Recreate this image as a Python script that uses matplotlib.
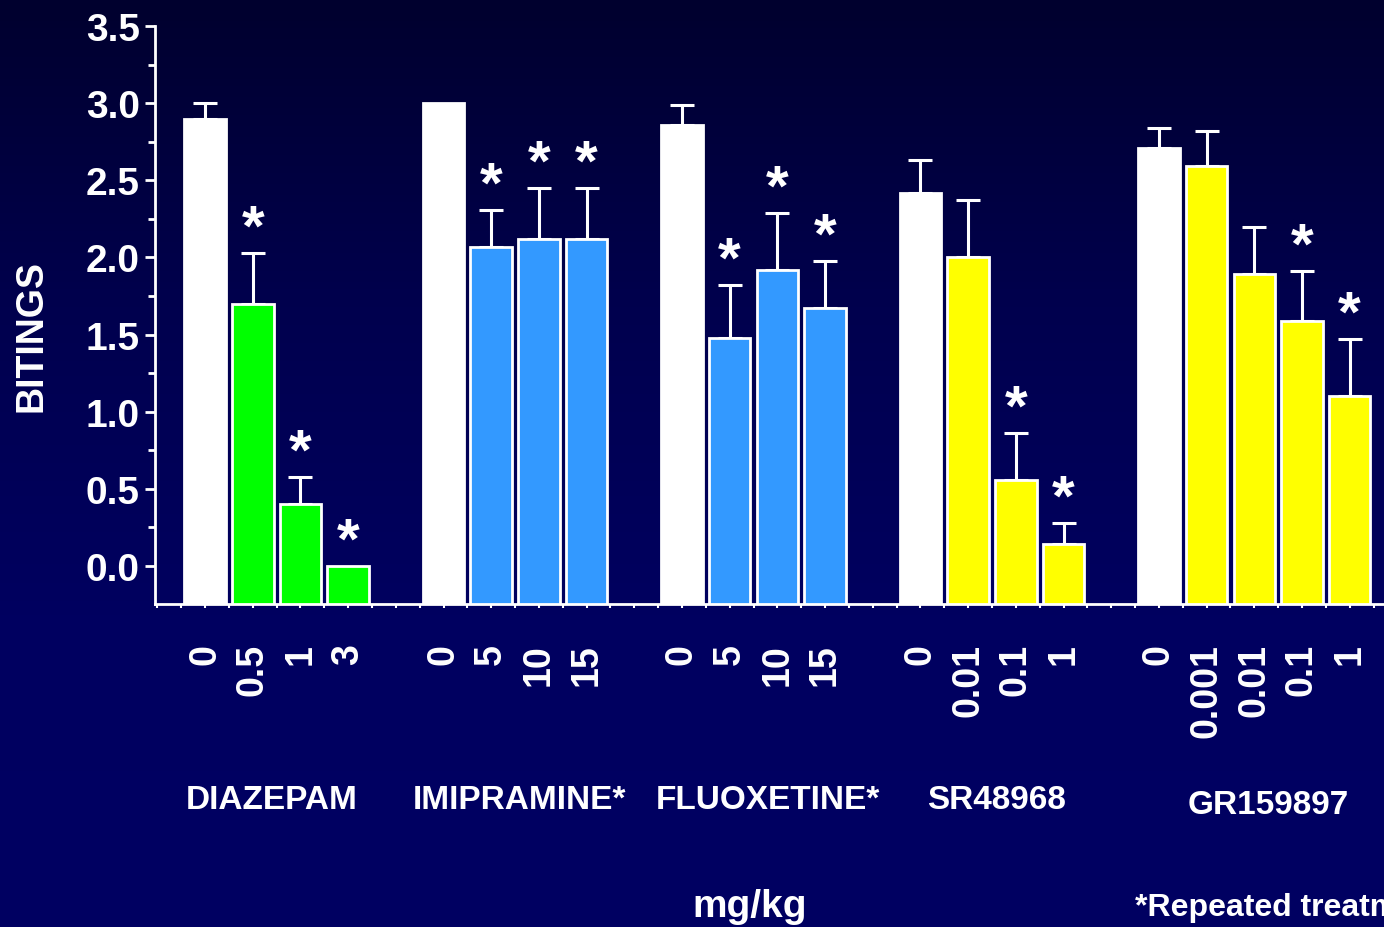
import numpy as np
import matplotlib
matplotlib.use("Agg")
import matplotlib.pyplot as plt
import matplotlib.transforms as mtransforms
from matplotlib.colors import LinearSegmentedColormap
from matplotlib.ticker import MultipleLocator, FixedLocator

plt.rcParams["font.family"] = ["Liberation Sans", "DejaVu Sans"]
plt.rcParams["font.weight"] = "bold"

# groups (drug, doses, means, upper SEM, significance)
drugs = ["DIAZEPAM", "IMIPRAMINE*", "FLUOXETINE*", "SR48968", "GR159897"]
doses = [
    ["0", "0.5", "1", "3"],
    ["0", "5", "10", "15"],
    ["0", "5", "10", "15"],
    ["0", "0.01", "0.1", "1"],
    ["0", "0.001", "0.01", "0.1", "1"],
]
means = [
    [2.90, 1.70, 0.40, 0.0],
    [3.00, 2.07, 2.12, 2.12],
    [2.86, 1.48, 1.92, 1.67],
    [2.42, 2.00, 0.56, 0.14],
    [2.71, 2.59, 1.89, 1.59, 1.10],
]
sems = [
    [0.10, 0.33, 0.18, 0.0],
    [0.0, 0.24, 0.33, 0.33],
    [0.13, 0.34, 0.37, 0.31],
    [0.21, 0.37, 0.30, 0.14],
    [0.13, 0.23, 0.31, 0.32, 0.37],
]
stars = [
    [0, 1, 1, 1],
    [0, 1, 1, 1],
    [0, 1, 1, 1],
    [0, 0, 1, 1],
    [0, 0, 0, 1, 1],
]
colors = ["#00ff00", "#3399ff", "#3399ff", "#ffff00", "#ffff00"]

YMIN, YMAX = -0.246, 3.5

fig = plt.figure(figsize=(13.84, 9.28), dpi=100)

# gradient background
bg = fig.add_axes([0, 0, 1, 1], zorder=-10)
cmap = LinearSegmentedColormap.from_list("bg", ["#00002e", "#00004e", "#000060", "#000062"])
bg.imshow(np.linspace(0, 1, 256).reshape(-1, 1), aspect="auto", cmap=cmap,
          extent=(0, 1, 0, 1), origin="upper")
bg.axis("off")

ax = fig.add_axes([155 / 1384, 1 - 605 / 928, 1 - 155 / 1384, (605 - 27) / 928])
ax.patch.set_alpha(0)

positions, labels = [], []
slot = 0
for g, drug in enumerate(drugs):
    xs = np.arange(slot, slot + len(doses[g]))
    facecols = ["white"] + [colors[g]] * (len(xs) - 1)
    heights = np.array(means[g]) - YMIN
    ax.bar(xs, heights, bottom=YMIN, width=0.87, color=facecols,
           edgecolor="white", linewidth=2, zorder=3)
    for x, m, e, s in zip(xs, means[g], sems[g], stars[g]):
        if e > 0:
            ax.errorbar(x, m, yerr=[[0], [e]], fmt="none", ecolor="white",
                        elinewidth=2.2, capsize=8.5, capthick=2.2, zorder=2)
        if s:
            ax.annotate("*", (x, m + e), xytext=(0, 6), textcoords="offset points",
                        ha="center", va="baseline", color="white",
                        fontsize=42, fontweight="bold", zorder=4)
    positions.extend(xs)
    labels.extend(doses[g])
    slot += len(xs) + 1

ax.set_xlim(-1.05, 24.72)
ax.set_ylim(YMIN, YMAX)

for side in ("top", "right"):
    ax.spines[side].set_visible(False)
for side in ("left", "bottom"):
    ax.spines[side].set_color("white")
    ax.spines[side].set_linewidth(2)

ax.yaxis.set_minor_locator(MultipleLocator(0.25))
ax.set_yticks(np.arange(0, 3.51, 0.5))
ax.set_yticklabels([f"{v:.1f}" for v in np.arange(0, 3.51, 0.5)])
ax.tick_params(axis="y", which="major", length=7, width=2, colors="white",
               labelsize=28, pad=4)
ax.tick_params(axis="y", which="minor", length=5, width=2, colors="white")

ax.set_xticks(positions)
ax.set_xticklabels(labels, rotation=90)
ax.xaxis.set_minor_locator(FixedLocator(np.arange(-1, 25, 0.5)))
ax.tick_params(axis="x", which="both", length=3, width=1.5, colors="white")
ax.tick_params(axis="x", which="major", labelsize=27, pad=25)
for t in ax.get_xticklabels() + ax.get_yticklabels():
    t.set_fontweight("bold")

# group names
name_x = [1.4, 6.6, 11.8, 16.6, 22.3]
name_y = [0.137, 0.137, 0.137, 0.137, 0.132]
btrans = mtransforms.blended_transform_factory(ax.transData, fig.transFigure)
for drug, x, y in zip(drugs, name_x, name_y):
    fig.text(x, y, drug, transform=btrans, ha="center", va="center",
             color="white", fontsize=24, fontweight="bold")

fig.text(32 / 1384, 0.638, "BITINGS", rotation=90, ha="center", va="center",
         color="white", fontsize=27, fontweight="bold")
fig.text(750 / 1384, 1 - 907 / 928, "mg/kg", ha="center", va="center",
         color="white", fontsize=28, fontweight="bold")
# the footnote runs off the right edge in the original slide
fig.text(1135 / 1384, 1 - 908 / 928, "*Repeated treatment", ha="left", va="center",
         color="white", fontsize=23, fontweight="bold")

fig.savefig("out.png", dpi=100)
